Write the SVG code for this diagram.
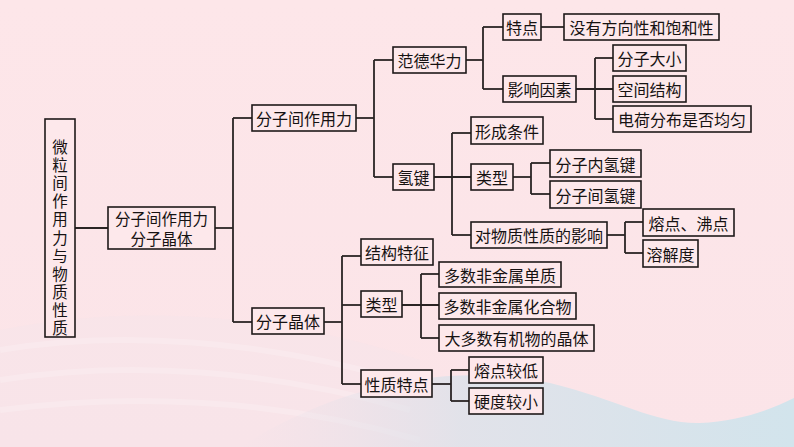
<svg xmlns="http://www.w3.org/2000/svg" width="794" height="447" viewBox="0 0 794 447">
<defs>
<linearGradient id="bg" x1="0" y1="0" x2="0" y2="1">
<stop offset="0" stop-color="#fde6e9"/>
<stop offset="1" stop-color="#fbe4e8"/>
</linearGradient>
<linearGradient id="wave" x1="0" y1="0" x2="1" y2="0">
<stop offset="0" stop-color="#e8dfe8" stop-opacity="0"/>
<stop offset="0.4" stop-color="#dbe2ea" stop-opacity="0.8"/>
<stop offset="1" stop-color="#d2e4ec"/>
</linearGradient>
<style>
.b{fill:#fde8eb;stroke:#1e1a1a;stroke-width:1.6}
.t{font-family:"Noto Sans CJK SC","Noto Sans CJK JP",sans-serif;font-size:16px;fill:#161212;text-anchor:middle;dominant-baseline:central}
.v{font-family:"Noto Sans CJK SC","Noto Sans CJK JP",sans-serif;font-size:15.5px;fill:#161212;writing-mode:vertical-rl;text-orientation:upright;letter-spacing:2.6px;text-anchor:middle}
.c path{fill:none;stroke:#2a2424;stroke-width:1.8}
.s{fill:none;stroke:#ffffff;stroke-opacity:0.18;stroke-width:6}
</style>
</defs>
<rect width="794" height="447" fill="url(#bg)"/>
<g id="background">
<path d="M0,330 C150,300 300,320 420,360 L420,447 L0,447 Z" fill="#f3e3ea" opacity="0.3"/>
<path class="s" d="M0,350 C120,330 260,340 400,380"/>
<path class="s" d="M0,380 C130,360 270,370 410,410"/>
<path class="s" d="M0,410 C140,392 280,400 420,440"/>
<path d="M240,447 C330,390 440,360 550,383 C620,400 655,424 700,423 C740,421 770,410 794,398 L794,447 Z" fill="url(#wave)"/>
</g>
<g class="c" id="connectors">
<path d="M75,228 H108"/>
<path d="M215,228 H233"/>
<path d="M233,118 V322"/>
<path d="M233,118 H252"/>
<path d="M233,322 H252"/>
<path d="M356,118 H374"/>
<path d="M374,60 V177"/>
<path d="M374,60 H393"/>
<path d="M374,177 H393"/>
<path d="M466,60 H483"/>
<path d="M483,27 V89"/>
<path d="M483,27 H503"/>
<path d="M483,89 H503"/>
<path d="M541,27 H564"/>
<path d="M576,89 H613"/>
<path d="M595,58 V119"/>
<path d="M595,58 H613"/>
<path d="M595,119 H613"/>
<path d="M434,177 H471"/>
<path d="M452,133 V235"/>
<path d="M452,133 H471"/>
<path d="M452,235 H471"/>
<path d="M513,177 H531"/>
<path d="M531,163 V194"/>
<path d="M531,163 H550"/>
<path d="M531,194 H550"/>
<path d="M607,235 H625"/>
<path d="M625,222 V253"/>
<path d="M625,222 H643"/>
<path d="M625,253 H643"/>
<path d="M324,322 H342"/>
<path d="M342,256 V384"/>
<path d="M342,256 H361"/>
<path d="M342,305 H361"/>
<path d="M342,384 H361"/>
<path d="M402,305 H439"/>
<path d="M421,274 V338"/>
<path d="M421,274 H439"/>
<path d="M421,338 H439"/>
<path d="M432,384 H451"/>
<path d="M451,370 V401"/>
<path d="M451,370 H469"/>
<path d="M451,401 H469"/>
</g>
<g id="root">
<rect class="b" x="45" y="119" width="30" height="218"/>
<text class="v" x="60" y="239">微粒间作用力与物质性质</text>
</g>
<g id="n-mid">
<rect class="b" x="108" y="207" width="107" height="42"/>
<text class="t" style="font-size:15.5px" x="161.5" y="218">分子间作用力<tspan x="161.5" dy="20">分子晶体</tspan></text>
</g>
<g id="n-fzjzyl"><rect class="b" x="252" y="105" width="104" height="26"/><text class="t" x="304" y="118">分子间作用力</text></g>
<g id="n-fdhl"><rect class="b" x="393" y="47" width="73" height="26"/><text class="t" x="429.5" y="60">范德华力</text></g>
<g id="n-qj"><rect class="b" x="393" y="164" width="41" height="26"/><text class="t" x="413.5" y="177">氢键</text></g>
<g id="n-td"><rect class="b" x="503" y="14" width="38" height="26"/><text class="t" x="522" y="27">特点</text></g>
<g id="n-myfx"><rect class="b" x="564" y="14" width="155" height="26"/><text class="t" x="641.5" y="27">没有方向性和饱和性</text></g>
<g id="n-yxys"><rect class="b" x="503" y="76" width="73" height="26"/><text class="t" x="539.5" y="89">影响因素</text></g>
<g id="n-fzdx"><rect class="b" x="613" y="45" width="73" height="26"/><text class="t" x="649.5" y="58">分子大小</text></g>
<g id="n-kjjg"><rect class="b" x="613" y="76" width="73" height="26"/><text class="t" x="649.5" y="89">空间结构</text></g>
<g id="n-dhfb"><rect class="b" x="613" y="106" width="138" height="26"/><text class="t" x="682" y="119">电荷分布是否均匀</text></g>
<g id="n-xctj"><rect class="b" x="471" y="117" width="72" height="27"/><text class="t" x="507" y="130.5">形成条件</text></g>
<g id="n-lx1"><rect class="b" x="471" y="164" width="42" height="26"/><text class="t" x="492" y="177">类型</text></g>
<g id="n-fznqj"><rect class="b" x="550" y="150" width="91" height="27"/><text class="t" x="595.5" y="163.5">分子内氢键</text></g>
<g id="n-fzjqj"><rect class="b" x="550" y="181" width="91" height="27"/><text class="t" x="595.5" y="194.5">分子间氢键</text></g>
<g id="n-dwzxz"><rect class="b" x="471" y="222" width="136" height="26"/><text class="t" x="539" y="235">对物质性质的影响</text></g>
<g id="n-rdfd"><rect class="b" x="643" y="209" width="91" height="27"/><text class="t" x="688.5" y="222.5">熔点、沸点</text></g>
<g id="n-rjd"><rect class="b" x="643" y="240" width="55" height="27"/><text class="t" x="670.5" y="253.5">溶解度</text></g>
<g id="n-fzjt"><rect class="b" x="252" y="308" width="72" height="26"/><text class="t" x="288" y="321">分子晶体</text></g>
<g id="n-jgtz"><rect class="b" x="361" y="239" width="72" height="26"/><text class="t" x="397" y="252">结构特征</text></g>
<g id="n-lx2"><rect class="b" x="361" y="291" width="41" height="26"/><text class="t" x="381.5" y="304">类型</text></g>
<g id="n-dsfjsdz"><rect class="b" x="439" y="262" width="122" height="25"/><text class="t" x="500" y="274.5">多数非金属单质</text></g>
<g id="n-dsfjshhw"><rect class="b" x="439" y="293" width="137" height="26"/><text class="t" x="507.5" y="306">多数非金属化合物</text></g>
<g id="n-ddsyjw"><rect class="b" x="439" y="325" width="155" height="26"/><text class="t" x="516.5" y="338">大多数有机物的晶体</text></g>
<g id="n-xztd"><rect class="b" x="361" y="370" width="71" height="27"/><text class="t" x="396.5" y="383.5">性质特点</text></g>
<g id="n-rdjd"><rect class="b" x="469" y="357" width="74" height="26"/><text class="t" x="506" y="370">熔点较低</text></g>
<g id="n-ydjx"><rect class="b" x="469" y="388" width="74" height="26"/><text class="t" x="506" y="401">硬度较小</text></g>
</svg>
